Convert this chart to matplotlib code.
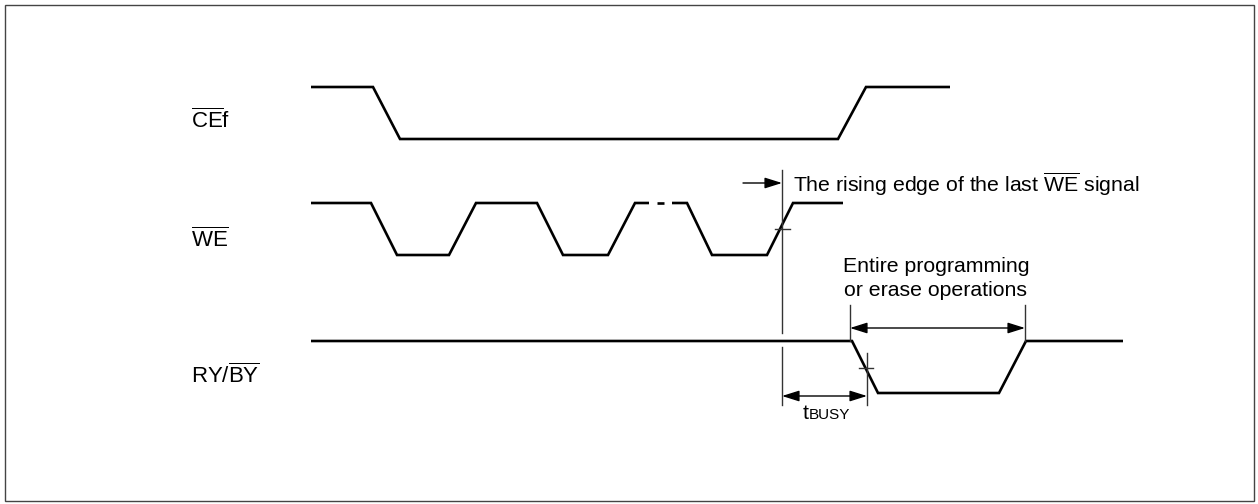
import matplotlib
matplotlib.use("Agg")
import matplotlib.pyplot as plt
from matplotlib.patches import Rectangle

plt.rcParams["font.family"] = ["Liberation Sans", "DejaVu Sans"]
plt.rcParams["mathtext.fontset"] = "custom"
plt.rcParams["mathtext.rm"] = "Liberation Sans"

# waveforms: breakpoint times and levels (1 = high, 0 = low)
ce_t = [311, 373, 400, 838, 866, 950]
ce_lvl = [1, 1, 0, 0, 1, 1]

we_t_a = [311, 371, 397, 449, 476, 537, 563, 608, 635, 649]
we_lvl_a = [1, 1, 0, 0, 1, 1, 0, 0, 1, 1]
we_t_dash = [657, 664]
we_lvl_dash = [1, 1]
we_t_b = [672, 687, 712, 767, 793, 843]
we_lvl_b = [1, 1, 0, 0, 1, 1]

ry_t = [311, 852, 878, 999, 1026, 1123]
ry_lvl = [1, 1, 0, 0, 1, 1]

# row baselines (low level) and swing
row_low = {"ce": 139, "we": 255, "ry": 393}
swing = 52

# timing markers
t_last_we = 782
t_busy_end = 867
t_op_start = 850
t_op_end = 1025

labels = [r"$\overline{\mathrm{CE}}\mathrm{f}$", r"$\overline{\mathrm{WE}}$",
          r"$\mathrm{RY/}\overline{\mathrm{BY}}$"]
label_y = [121, 240, 376]


def level_y(row, lvl):
    return [row_low[row] - swing * v for v in lvl]


fig = plt.figure(figsize=(12.58, 5.04), dpi=100)
ax = fig.add_axes([0, 0, 1, 1])
ax.set_xlim(0, 1258)
ax.set_ylim(504, 0)
ax.axis("off")

ax.add_patch(Rectangle((5, 5), 1249, 496, fill=False, lw=1.0, ec="#444444"))

wave = dict(color="black", lw=1.9, solid_joinstyle="miter", solid_capstyle="butt")
ax.plot(ce_t, level_y("ce", ce_lvl), **wave)
ax.plot(we_t_a, level_y("we", we_lvl_a), **wave)
ax.plot(we_t_dash, level_y("we", we_lvl_dash), **wave)
ax.plot(we_t_b, level_y("we", we_lvl_b), **wave)
ax.plot(ry_t, level_y("ry", ry_lvl), **wave)

# signal names
for lab, y in zip(labels, label_y):
    ax.text(191, y, lab, fontsize=16, ha="left", va="center")

guide = dict(color="#333333", lw=1.0)
ry_high = row_low["ry"] - swing
we_mid = row_low["we"] - swing / 2
ry_mid = row_low["ry"] - swing / 2 + 1

# last WE rising edge marker
ax.plot([t_last_we, t_last_we], [170, ry_high - 8], **guide)
ax.plot([t_last_we, t_last_we], [ry_high + 6, 405], **guide)
ax.plot([t_last_we - 7, t_last_we + 8], [we_mid, we_mid], **guide)

arrow_one = dict(arrowstyle="-|>,head_length=0.7,head_width=0.22", color="black",
                 lw=1.0, shrinkA=0, shrinkB=0, mutation_scale=15)
arrow_two = dict(arrowstyle="<|-|>,head_length=0.7,head_width=0.22", color="black",
                 lw=1.0, shrinkA=0, shrinkB=0, mutation_scale=15)

ax.annotate("", xy=(t_last_we, 183), xytext=(743, 183), arrowprops=arrow_one)
ax.text(793, 184, r"The rising edge of the last $\overline{\mathrm{WE}}$ signal",
        fontsize=15.3, ha="left", va="center")

# programming / erase span
ax.plot([t_op_start, t_op_start], [305, ry_high], **guide)
ax.plot([t_op_end, t_op_end], [305, ry_high], **guide)
ax.annotate("", xy=(t_op_end, 328), xytext=(t_op_start, 328), arrowprops=arrow_two)
ax.text(936, 267, "Entire programming", fontsize=15.3, ha="center", va="center")
ax.text(936, 290, "or erase operations", fontsize=15.3, ha="center", va="center")

# tBUSY
ax.plot([t_busy_end, t_busy_end], [353, 405], **guide)
ax.plot([t_busy_end - 8, t_busy_end + 6], [ry_mid, ry_mid], **guide)
ax.annotate("", xy=(t_busy_end, 396), xytext=(t_last_we, 396), arrowprops=arrow_two)
ax.text(809, 419, "t", fontsize=15.3, ha="right", va="baseline")
ax.text(809, 419, "BUSY", fontsize=11, ha="left", va="baseline")

fig.savefig("out.png", dpi=100)
